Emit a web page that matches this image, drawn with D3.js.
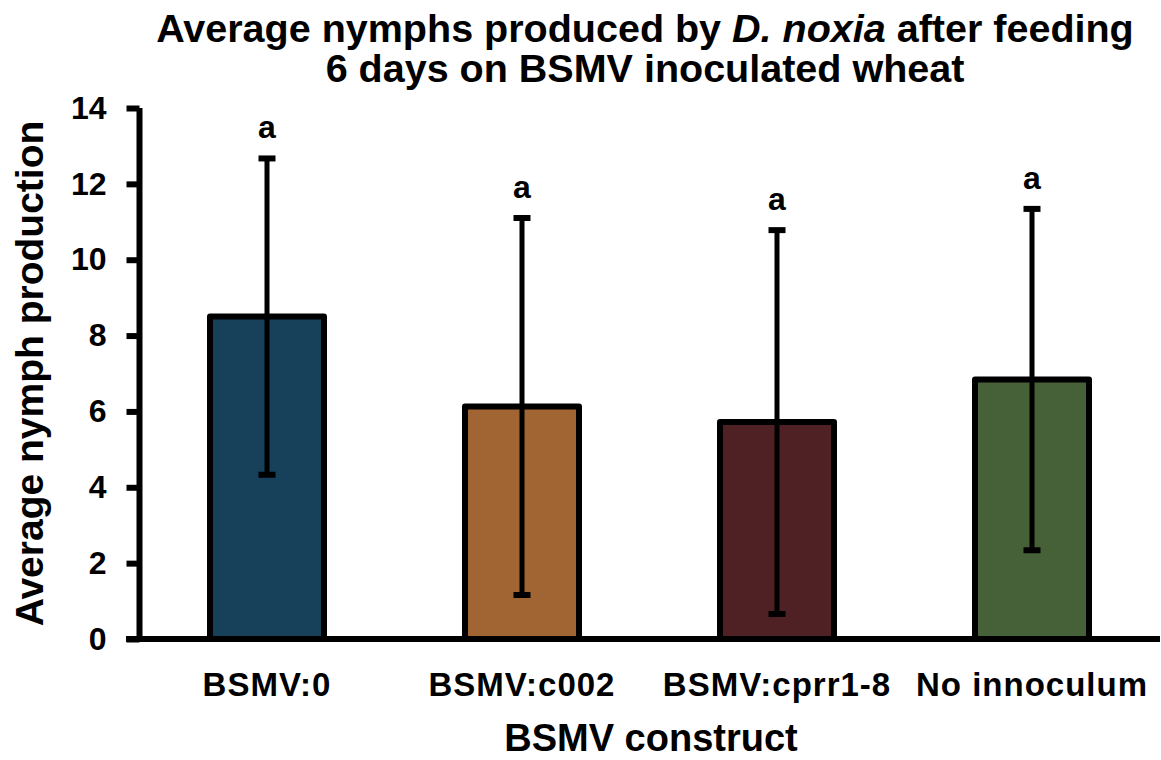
<!DOCTYPE html>
<html>
<head>
<meta charset="utf-8">
<script src="https://cdn.jsdelivr.net/npm/d3@7"></script>
<style>
  html, body { margin: 0; padding: 0; background: #ffffff; }
  svg { display: block; font-family: "Liberation Sans", Arial, sans-serif; }
</style>
</head>
<body>
<svg id="chart" width="1161" height="760"></svg>
<script>
// Nymph counts per BSMV construct
const categories = ["BSMV:0", "BSMV:c002", "BSMV:cprr1-8", "No innoculum"];
const means = [8.5, 6.13, 5.72, 6.84];
const errors = [4.17, 4.97, 5.06, 4.5];
const letters = ["a", "a", "a", "a"];
const colors = ["#17415a", "#a06533", "#4f2024", "#466138"];
const yTicks = [0, 2, 4, 6, 8, 10, 12, 14];

const svg = d3.select("#chart");
const FONT = "Liberation Sans, Arial, sans-serif";

const x = d3.scaleBand()
  .domain(categories)
  .range([139.5, 1159.5])
  .paddingInner(0.553)
  .paddingOuter(0.2765);

const y = d3.scaleLinear().domain([0, 14]).range([639, 108]);

const data = categories.map((c, i) => ({
  cat: c, mean: means[i], err: errors[i], letter: letters[i], color: colors[i]
}));

// Bars
svg.append("g").selectAll("rect")
  .data(data)
  .join("rect")
  .attr("x", d => x(d.cat))
  .attr("y", d => y(d.mean))
  .attr("width", x.bandwidth())
  .attr("height", d => y(0) - y(d.mean))
  .attr("fill", d => d.color)
  .attr("stroke", "#000")
  .attr("stroke-width", 6)
  .attr("stroke-linejoin", "round");

// Error bars
const eb = svg.append("g").attr("stroke", "#000");
const capW = 17;
data.forEach(d => {
  const cx = x(d.cat) + x.bandwidth() / 2;
  eb.append("line")
    .attr("x1", cx).attr("x2", cx)
    .attr("y1", y(d.mean + d.err)).attr("y2", y(d.mean - d.err))
    .attr("stroke-width", 5);
  [d.mean + d.err, d.mean - d.err].forEach(v => {
    eb.append("line")
      .attr("x1", cx - capW / 2).attr("x2", cx + capW / 2)
      .attr("y1", y(v)).attr("y2", y(v))
      .attr("stroke-width", 6);
  });
});

// Significance letters
svg.append("g").selectAll("text")
  .data(data)
  .join("text")
  .attr("x", d => x(d.cat) + x.bandwidth() / 2)
  .attr("y", d => y(d.mean + d.err) - 20)
  .attr("text-anchor", "middle")
  .attr("font-size", 32)
  .attr("font-weight", "bold")
  .text(d => d.letter);

// Y axis
const yAxis = svg.append("g")
  .attr("transform", "translate(139.5,0)")
  .call(d3.axisLeft(y).tickValues(yTicks).tickSize(13).tickPadding(20).tickFormat(d3.format("d")));
yAxis.select(".domain").attr("stroke", "#000").attr("stroke-width", 6)
  .attr("d", `M0,${y(14)}V${y(0) + 3}`);
yAxis.selectAll(".tick line").attr("stroke", "#000").attr("stroke-width", 6);
yAxis.selectAll(".tick text")
  .attr("font-size", 32).attr("font-weight", "bold").attr("fill", "#000")
  .attr("font-family", FONT);

// X axis
const xAxis = svg.append("g")
  .attr("transform", `translate(0,${y(0)})`)
  .call(d3.axisBottom(x).tickSize(0).tickPadding(34));
xAxis.select(".domain").attr("stroke", "#000").attr("stroke-width", 6)
  .attr("d", "M126,0H1160");
xAxis.selectAll(".tick text")
  .attr("font-size", 33).attr("font-weight", "bold").attr("fill", "#000")
  .attr("font-family", FONT)
  .attr("letter-spacing", 1);

// Axis titles
svg.append("text")
  .attr("transform", `translate(43,${(y(0) + y(14)) / 2}) rotate(-90)`)
  .attr("text-anchor", "middle")
  .attr("font-size", 39)
  .attr("font-weight", "bold")
  .text("Average nymph production");

svg.append("text")
  .attr("x", 651)
  .attr("y", 751)
  .attr("text-anchor", "middle")
  .attr("font-size", 38)
  .attr("font-weight", "bold")
  .text("BSMV construct");

// Title
const title = svg.append("text")
  .attr("text-anchor", "middle")
  .attr("font-size", 39.5)
  .attr("font-weight", "bold");
const l1 = title.append("tspan").attr("x", 645).attr("y", 42);
l1.append("tspan").text("Average nymphs produced by ");
l1.append("tspan").attr("font-style", "italic").text("D. noxia");
l1.append("tspan").text(" after feeding");
title.append("tspan").attr("x", 645).attr("y", 82).text("6 days on BSMV inoculated wheat");
</script>
</body>
</html>
